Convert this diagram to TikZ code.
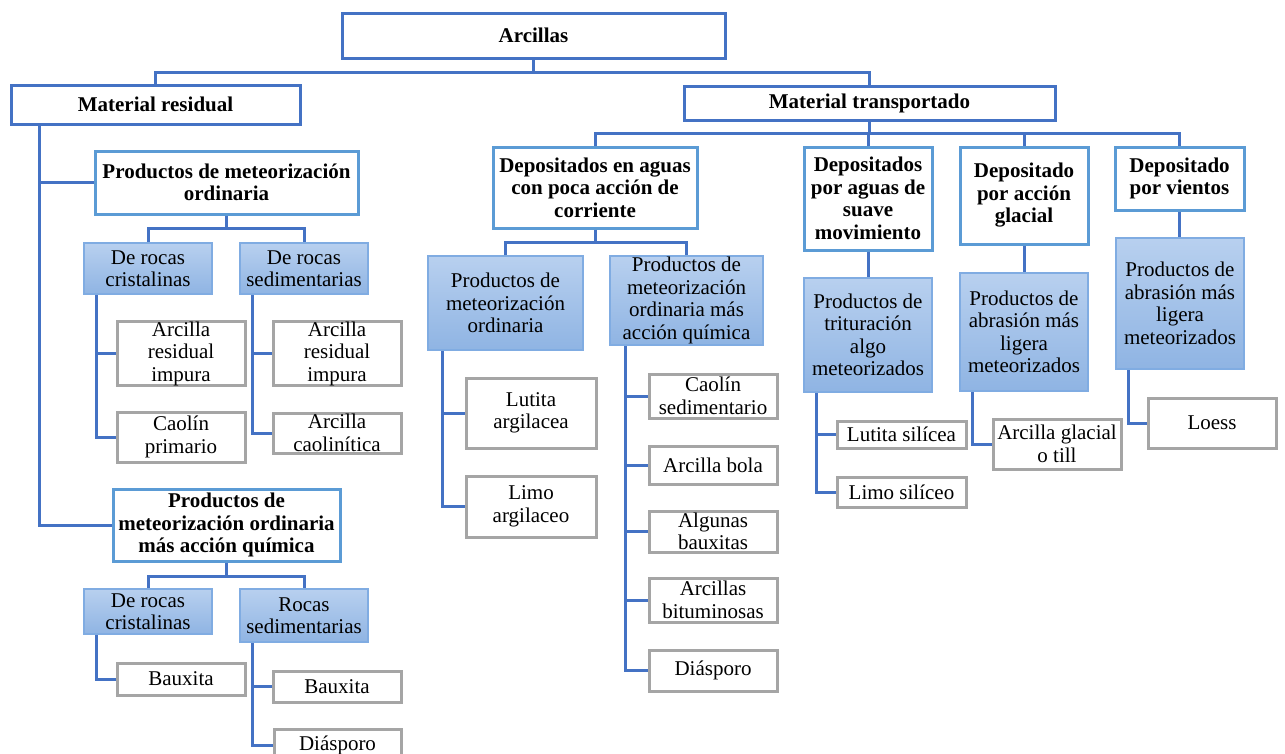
\documentclass[tikz,border=0pt]{standalone}
\usepackage{fontspec}
\setmainfont{Liberation Serif}
\usetikzlibrary{shadings}

\definecolor{darkblue}{RGB}{68,114,196}
\definecolor{midblue}{RGB}{91,155,213}
\definecolor{lightedge}{RGB}{128,172,226}
\definecolor{shtop}{RGB}{184,208,239}
\definecolor{shbot}{RGB}{143,180,227}
\definecolor{leafgray}{RGB}{165,165,165}

\tikzset{
  every node/.style={font=\fontsize{21}{22.5}\selectfont, align=center, inner sep=0pt},
  topbox/.style={draw=darkblue, line width=3pt, fill=white, font=\fontsize{21}{22.5}\selectfont\bfseries},
  groupbox/.style={draw=midblue, line width=3pt, fill=white, font=\fontsize{21}{22.5}\selectfont\bfseries},
  shadebox/.style={draw=lightedge, line width=2pt, top color=shtop, bottom color=shbot},
  leafbox/.style={draw=leafgray, line width=3pt, fill=white},
  conn/.style={draw=darkblue, line width=3pt},
}

% box from its outer corners: style, name, left, top, right, bottom, text
\newcommand\drawbox[7]{%
  \node[#1, minimum width={#5-#3-2}, minimum height={#6-#4-2}] (#2)
    at ({(#3+#5)/2},{(#4+#6)/2}) {#7};}

\begin{document}
\begin{tikzpicture}[x=1pt, y=-1pt]
\fill[white] (0,0) rectangle (1285,753);
\useasboundingbox (0,0) rectangle (1285,753);

% bus levels
\coordinate (b0) at (0,72);
\coordinate (b1) at (0,133);
\coordinate (b2) at (0,228);
\coordinate (b3) at (0,576);
\coordinate (b4) at (0,242);

% top levels
\drawbox{topbox}{arc}{341}{12}{726}{59}{Arcillas}
\drawbox{topbox}{mres}{10}{84}{301}{125}{Material residual}
\drawbox{topbox}{mtr}{683}{85}{1056}{121}{Material transportado}

% residual material
\drawbox{groupbox}{pmo}{94}{150}{359}{215}{Productos de meteorización\\ordinaria}
\drawbox{shadebox}{drc1}{83}{242}{213}{295}{De rocas\\cristalinas}
\drawbox{shadebox}{drs1}{239}{242}{369}{295}{De rocas\\sedimentarias}
\drawbox{leafbox}{l1}{116}{321}{246}{386}{Arcilla\\residual\\impura}
\drawbox{leafbox}{l2}{116}{411}{246}{463}{Caolín\\primario}
\drawbox{leafbox}{l3}{272}{321}{402}{386}{Arcilla\\residual\\impura}
\drawbox{leafbox}{l4}{272}{412}{402}{454}{Arcilla\\caolinítica}

\drawbox{groupbox}{pmq}{112}{488}{341}{562}{Productos de\\meteorización ordinaria\\más acción química}
\drawbox{shadebox}{drc2}{83}{588}{213}{635}{De rocas\\cristalinas}
\drawbox{shadebox}{rs2}{239}{588}{369}{643}{Rocas\\sedimentarias}
\drawbox{leafbox}{l5}{116}{662}{246}{696}{Bauxita}
\drawbox{leafbox}{l6}{272}{670}{402}{703}{Bauxita}
\drawbox{leafbox}{l7}{273}{728}{402}{762}{Diásporo}

% transported material
\drawbox{groupbox}{dac}{492}{146}{698}{229}{Depositados en aguas\\con poca acción de\\corriente}
\drawbox{shadebox}{pmo2}{427}{255}{584}{351}{Productos de\\meteorización\\ordinaria}
\drawbox{shadebox}{pmq2}{609}{255}{764}{346}{Productos de\\meteorización\\ordinaria más\\acción química}
\drawbox{leafbox}{l8}{465}{377}{597}{449}{Lutita\\argilacea}
\drawbox{leafbox}{l9}{465}{475}{597}{538}{Limo\\argilaceo}
\drawbox{leafbox}{l10}{648}{373}{778}{419}{Caolín\\sedimentario}
\drawbox{leafbox}{l11}{648}{445}{778}{485}{Arcilla bola}
\drawbox{leafbox}{l12}{648}{510}{778}{553}{Algunas\\bauxitas}
\drawbox{leafbox}{l13}{648}{577}{778}{623}{Arcillas\\bituminosas}
\drawbox{leafbox}{l14}{648}{649}{778}{692}{Diásporo}

\drawbox{groupbox}{dsm}{803}{146}{933}{251}{Depositados\\por aguas de\\suave\\movimiento}
\drawbox{shadebox}{ptr}{803}{277}{933}{393}{Productos de\\trituración\\algo\\meteorizados}
\drawbox{leafbox}{l15}{836}{420}{967}{449}{Lutita silícea}
\drawbox{leafbox}{l16}{836}{476}{967}{508}{Limo silíceo}

\drawbox{groupbox}{dag}{959}{146}{1089}{245}{Depositado\\por acción\\glacial}
\drawbox{shadebox}{pag}{959}{272}{1089}{392}{Productos de\\abrasión más\\ligera\\meteorizados}
\drawbox{leafbox}{l17}{992}{418}{1122}{470}{Arcilla glacial\\o till}

\drawbox{groupbox}{dpv}{1114}{146}{1245}{211}{Depositado\\por vientos}
\drawbox{shadebox}{pav}{1115}{237}{1245}{370}{Productos de\\abrasión más\\ligera\\meteorizados}
\drawbox{leafbox}{l18}{1147}{397}{1277}{449}{Loess}

% connectors: upper buses
\draw[conn] (arc.south) -- (arc.south |- b0);
\draw[conn] (mres.north) |- (mtr.north |- b0) -- (mtr.north);
\draw[conn] (mtr.south) -- (mtr.south |- b1);
\draw[conn] (dac.north) |- (dpv.north |- b1) -- (dpv.north);
\draw[conn] (dsm.north) -- (dsm.north |- b1);
\draw[conn] (dag.north) -- (dag.north |- b1);

% residual material branches
\draw[conn] ([xshift=30pt]mres.south west) |- (pmo.west);
\draw[conn] ([xshift=30pt]mres.south west) |- (pmq.west);
\draw[conn] (pmo.south) -- (pmo.south |- b2);
\draw[conn] (drc1.north) |- (drs1.north |- b2) -- (drs1.north);
\draw[conn] ([xshift=13pt]drc1.south west) |- (l1.west);
\draw[conn] ([xshift=13pt]drc1.south west) |- (l2.west);
\draw[conn] ([xshift=13pt]drs1.south west) |- (l3.west);
\draw[conn] ([xshift=13pt]drs1.south west) |- (l4.west);
\draw[conn] (pmq.south) -- (pmq.south |- b3);
\draw[conn] (drc2.north) |- (rs2.north |- b3) -- (rs2.north);
\draw[conn] ([xshift=13pt]drc2.south west) |- (l5.west);
\draw[conn] ([xshift=13pt]rs2.south west) |- (l6.west);
\draw[conn] ([xshift=13pt]rs2.south west) |- (l7.west);

% transported material branches
\draw[conn] (dac.south) -- (dac.south |- b4);
\draw[conn] (pmo2.north) |- (pmq2.north |- b4) -- (pmq2.north);
\draw[conn] ([xshift=15pt]pmo2.south west) |- (l8.west);
\draw[conn] ([xshift=15pt]pmo2.south west) |- (l9.west);
\draw[conn] ([xshift=16pt]pmq2.south west) |- (l10.west);
\draw[conn] ([xshift=16pt]pmq2.south west) |- (l11.west);
\draw[conn] ([xshift=16pt]pmq2.south west) |- (l12.west);
\draw[conn] ([xshift=16pt]pmq2.south west) |- (l13.west);
\draw[conn] ([xshift=16pt]pmq2.south west) |- (l14.west);

\draw[conn] (dsm.south) -- (ptr.north);
\draw[conn] ([xshift=13pt]ptr.south west) |- (l15.west);
\draw[conn] ([xshift=13pt]ptr.south west) |- (l16.west);
\draw[conn] (dag.south) -- (pag.north);
\draw[conn] ([xshift=13pt]pag.south west) |- (l17.west);
\draw[conn] (dpv.south) -- (dpv.south |- pav.north);
\draw[conn] ([xshift=13pt]pav.south west) |- (l18.west);
\end{tikzpicture}
\end{document}
